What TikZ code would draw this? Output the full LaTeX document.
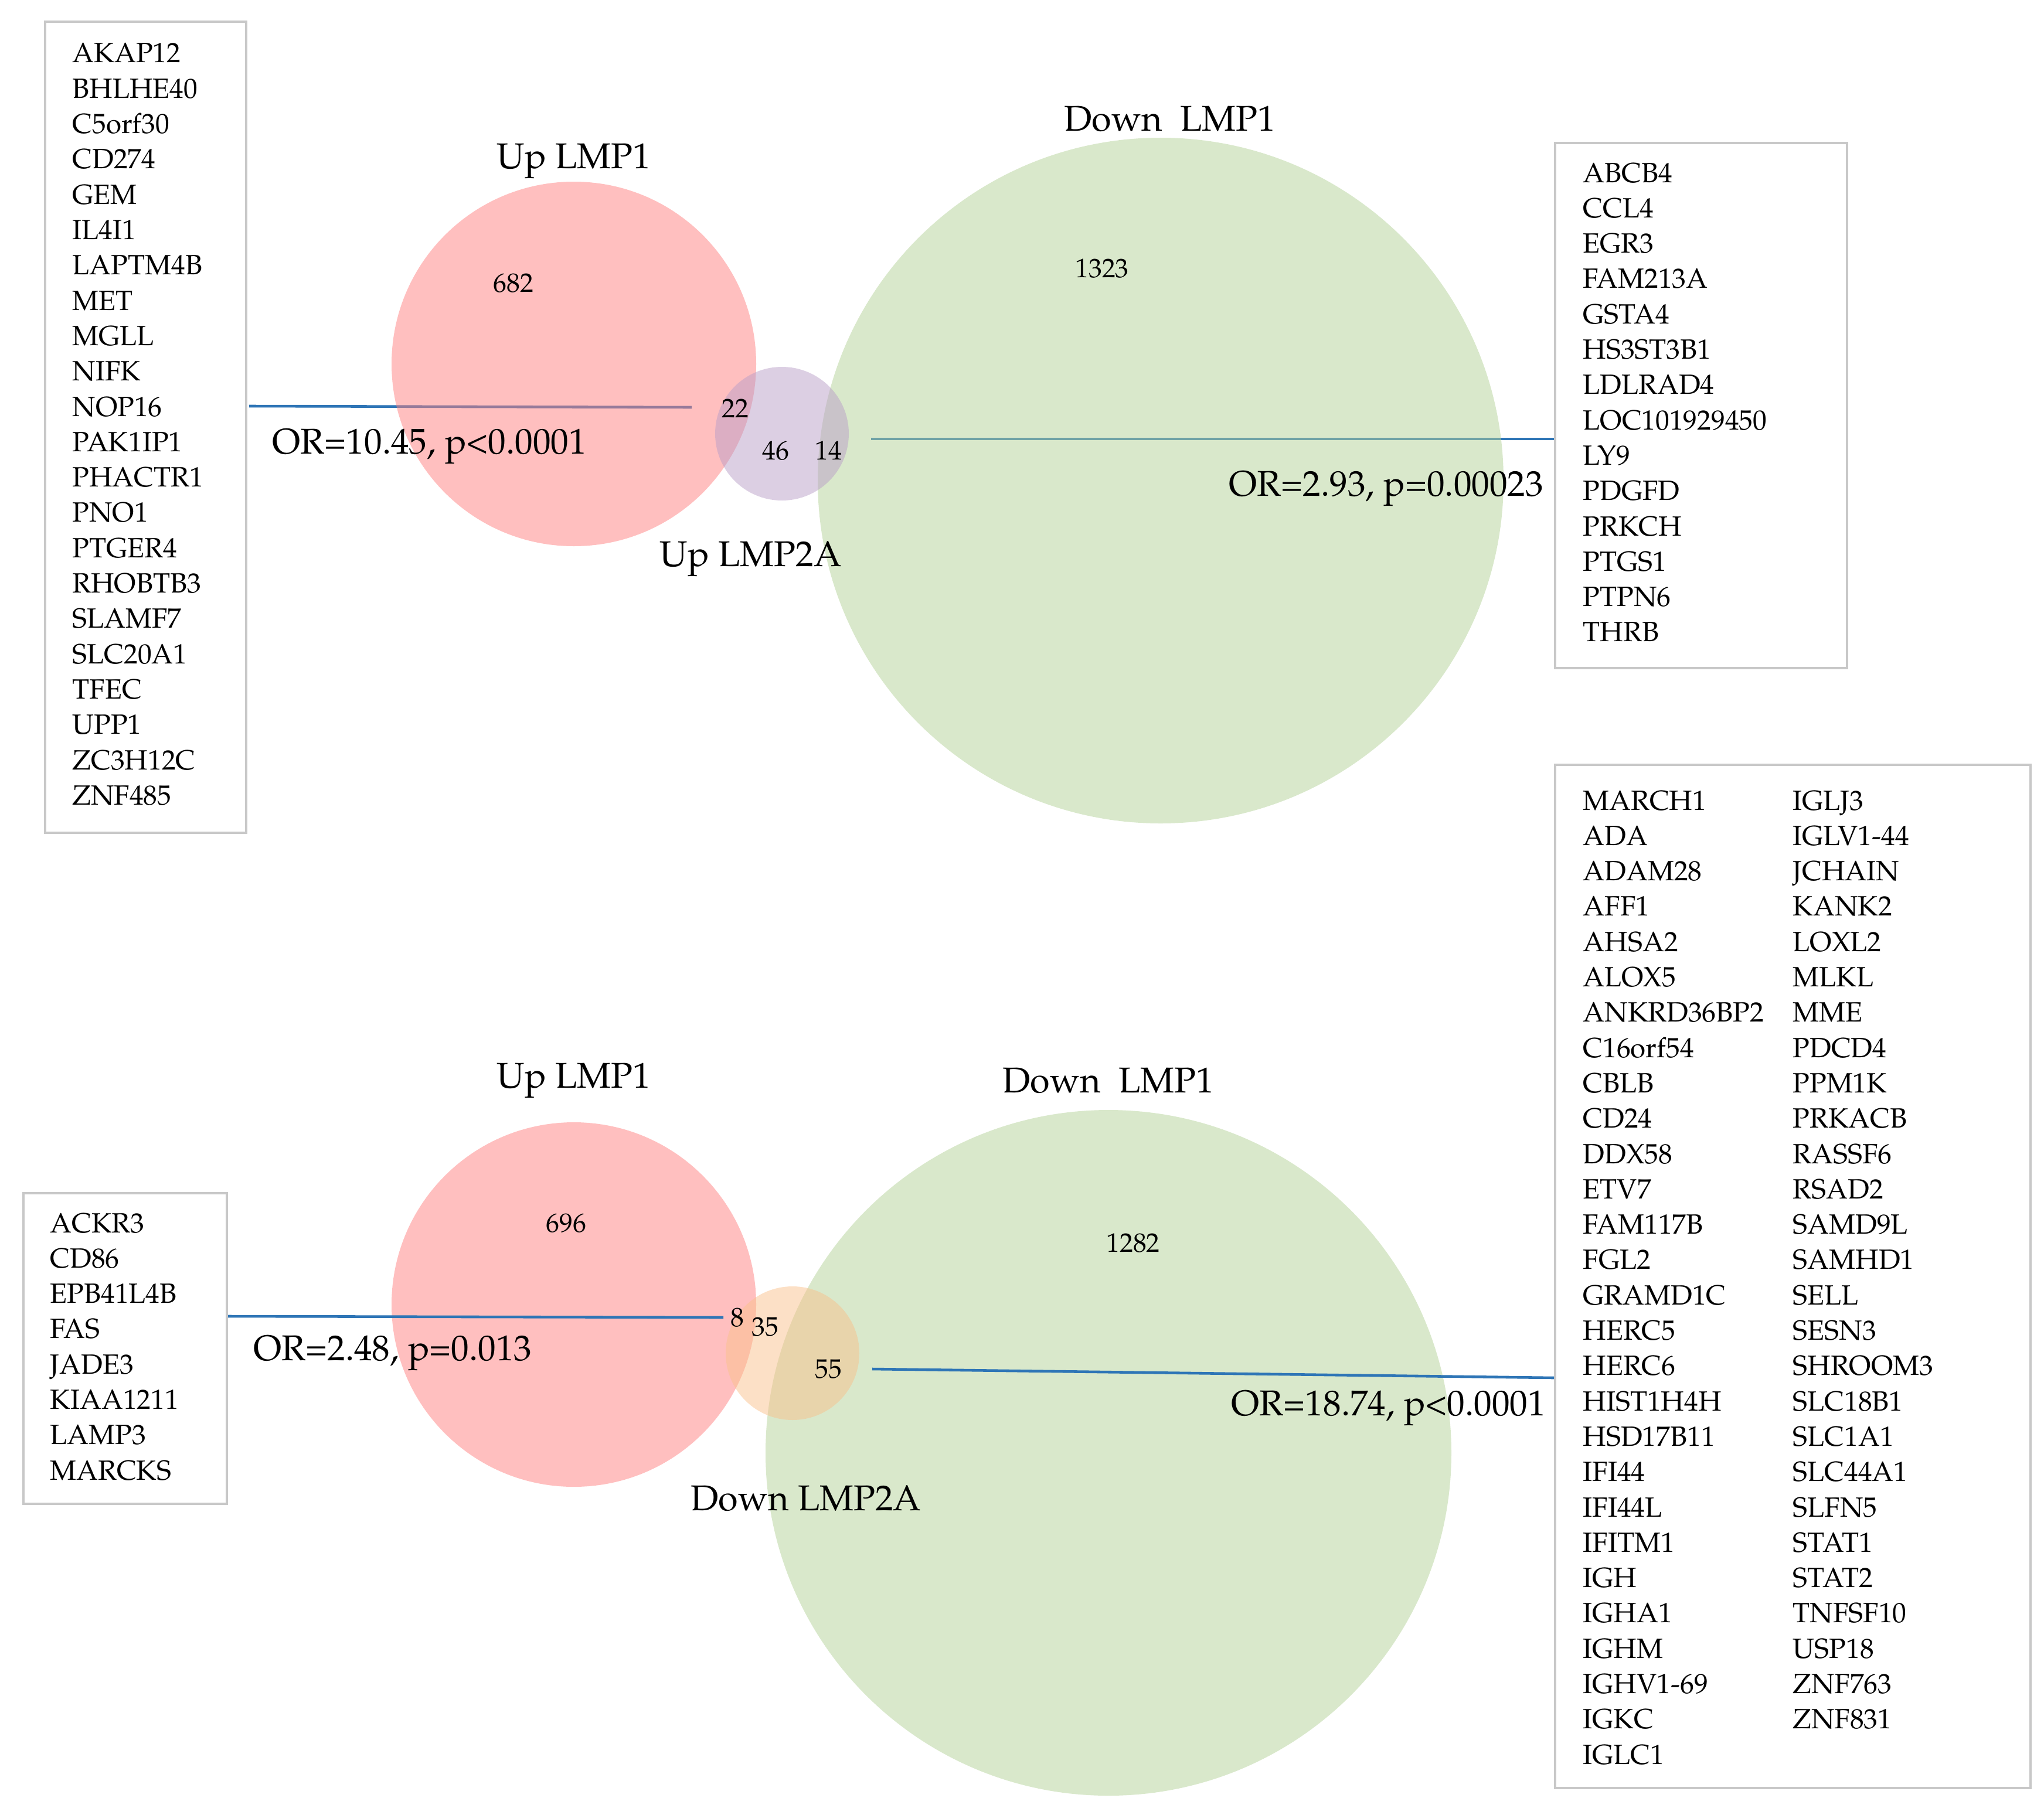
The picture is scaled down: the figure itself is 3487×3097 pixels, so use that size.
\documentclass[tikz,border=0pt]{standalone}
\usepackage[T1]{fontenc}
\usepackage{mathpazo}
\definecolor{upred}{HTML}{FF8080}
\definecolor{downgreen}{HTML}{B3D197}
\definecolor{lmpurple}{HTML}{B99FC7}
\definecolor{lmorange}{HTML}{F9C18D}
\definecolor{orblue}{HTML}{2E75B6}
\definecolor{boxgray}{HTML}{C8C8C8}
\begin{document}
\begin{tikzpicture}[x=0.01cm,y=-0.01cm,
  gene/.style={anchor=base west,inner sep=0pt,font=\fontsize{13.5}{16}\selectfont},
  setname/.style={inner sep=0pt,font=\fontsize{17.4}{20}\selectfont},
  count/.style={inner sep=0pt,font=\fontsize{13}{15}\selectfont},
  oddsratio/.style={inner sep=0pt,font=\fontsize{17.4}{20}\selectfont},
  listbox/.style={draw=boxgray,line width=1.2pt},
  orline/.style={draw=orblue,line width=1.3pt}]
\useasboundingbox (0,0) rectangle (3487,3097);

\draw[listbox] (77,37) rectangle (420,1421);
\foreach \g [count=\i] in {AKAP12,BHLHE40,C5orf30,CD274,GEM,IL4I1,LAPTM4B,MET,MGLL,NIFK,NOP16,PAK1IP1,PHACTR1,PNO1,PTGER4,RHOBTB3,SLAMF7,SLC20A1,TFEC,UPP1,ZC3H12C,ZNF485}
  \node[gene] (a\i) at (123,{107+60.3*(\i-1)}) {\g};

\draw[listbox] (2653,244) rectangle (3151,1140);
\foreach \g [count=\i] in {ABCB4,CCL4,EGR3,FAM213A,GSTA4,HS3ST3B1,LDLRAD4,LOC101929450,LY9,PDGFD,PRKCH,PTGS1,PTPN6,THRB}
  \node[gene] (b\i) at (2700,{311+60.3*(\i-1)}) {\g};

\coordinate (L1) at (425,693);
\coordinate (L2) at (1180,695);
\coordinate (R1) at (1486,749);
\coordinate (R2) at (2651,749);
\draw[orline] (L1) -- (L2);
\draw[orline] (R1) -- (R2);

\fill[upred,fill opacity=0.5] (979,621) circle[radius=311];
\fill[downgreen,fill opacity=0.5] (1980,820) circle[radius=585];
\fill[lmpurple,fill opacity=0.5] (1334,740) circle[radius=114];

\node[setname] (upA) at (979,275) {Up LMP1};
\node[setname] (downA) at (1996,203) {Down\ \ LMP1};
\node[setname] (lmpA) at (1281,954) {Up LMP2A};
\node[count] (n682) at (876,483) {682};
\node[count] (n1323) at (1880,458) {1323};
\node[count] (n22) at (1254,697) {22};
\node[count] (n46) at (1323,769) {46};
\node[count] (n14) at (1413,769) {14};
\node[oddsratio] (orA) at (733,762) {OR=10.45, p<0.0001};
\node[oddsratio] (orB) at (2365,834) {OR=2.93, p=0.00023};

\draw[listbox] (40,2036) rectangle (387,2566);
\foreach \g [count=\i] in {ACKR3,CD86,EPB41L4B,FAS,JADE3,KIAA1211,LAMP3,MARCKS}
  \node[gene] (c\i) at (85,{2103+60.3*(\i-1)}) {\g};

\draw[listbox] (2653,1305) rectangle (3464,3051);
\foreach \g [count=\i] in {MARCH1,ADA,ADAM28,AFF1,AHSA2,ALOX5,ANKRD36BP2,C16orf54,CBLB,CD24,DDX58,ETV7,FAM117B,FGL2,GRAMD1C,HERC5,HERC6,HIST1H4H,HSD17B11,IFI44,IFI44L,IFITM1,IGH,IGHA1,IGHM,IGHV1-69,IGKC,IGLC1}
  \node[gene] (d\i) at (2700,{1382+60.3*(\i-1)}) {\g};
\foreach \g [count=\i] in {IGLJ3,IGLV1-44,JCHAIN,KANK2,LOXL2,MLKL,MME,PDCD4,PPM1K,PRKACB,RASSF6,RSAD2,SAMD9L,SAMHD1,SELL,SESN3,SHROOM3,SLC18B1,SLC1A1,SLC44A1,SLFN5,STAT1,STAT2,TNFSF10,USP18,ZNF763,ZNF831}
  \node[gene] (e\i) at (3058,{1382+60.3*(\i-1)}) {\g};

\fill[upred,fill opacity=0.5] (979,2226) circle[radius=311];
\fill[downgreen,fill opacity=0.5] (1891,2479) circle[radius=585];
\fill[lmorange,fill opacity=0.5] (1352,2309) circle[radius=114];

\coordinate (L3) at (389,2246);
\coordinate (L4) at (1234,2248);
\coordinate (R3) at (1488,2336);
\coordinate (R4) at (2651,2351);
\draw[orline] (L3) -- (L4);
\draw[orline] (R3) -- (R4);

\node[setname] (upB) at (979,1844) {Up LMP1};
\node[setname] (downB) at (1891,1844) {Down\ \ LMP1};
\node[setname] (lmpB) at (1375,2557) {Down LMP2A};
\node[count] (n696) at (966,2087) {696};
\node[count] (n1282) at (1933,2121) {1282};
\node[count] (n8) at (1258,2248) {8};
\node[count] (n35) at (1305,2264) {35};
\node[count] (n55) at (1413,2336) {55};
\node[oddsratio] (orC) at (670,2309) {OR=2.48, p=0.013};
\node[oddsratio] (orD) at (2369,2403) {OR=18.74, p<0.0001};
\end{tikzpicture}
\end{document}
